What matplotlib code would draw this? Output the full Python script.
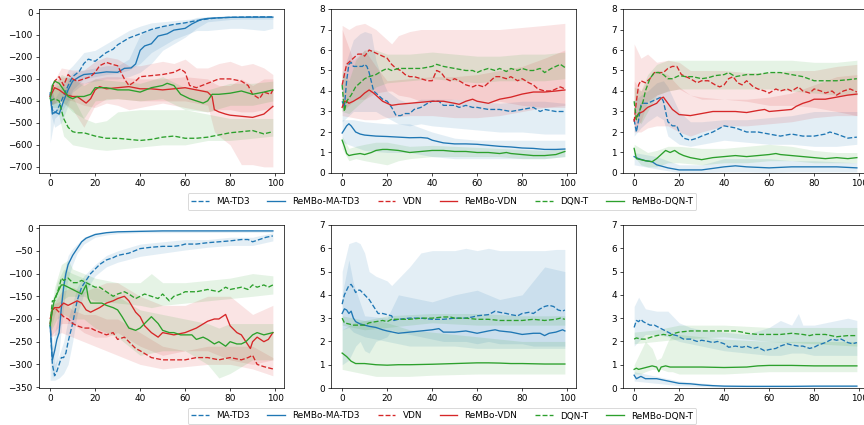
import matplotlib
matplotlib.use("Agg")
import matplotlib.pyplot as plt

# ---------------- colours / labels ----------------
C_TD3, C_VDN, C_DQN = "#1f77b4", "#d62728", "#2ca02c"
labels = ["MA-TD3", "ReMBo-MA-TD3", "VDN", "ReMBo-VDN", "DQN-T", "ReMBo-DQN-T"]

# ================= Panel A (top-left) =================
a_matd3_x = [0,1,2,3,5,8,10,13,15,17,20,23,25,28,30,35,40,45,50,55,60,65,70,75,80,85,90,95,99]
a_matd3_y = [-360,-440,-455,-445,-400,-330,-290,-265,-230,-210,-220,-195,-180,-165,-145,-114,-95,-75,-62,-52,-45,-35,-27,-22,-20,-19,-18,-18,-18]
a_matd3_bx = [0,2,5,8,10,15,20,25,30,35,40,45,50,55,60,65,70,75,80,85,90,95,99]
a_matd3_lo = [-590,-480,-450,-400,-350,-300,-290,-280,-275,-260,-230,-180,-150,-120,-100,-80,-80,-75,-70,-70,-75,-80,-70]
a_matd3_hi = [-340,-390,-340,-260,-240,-180,-170,-140,-110,-80,-60,-45,-40,-35,-30,-25,-18,-15,-14,-14,-14,-14,-14]

a_rtd3_x = [0,1,2,4,6,8,10,13,15,20,25,30,33,36,38,40,42,45,48,52,55,60,63,67,70,75,80,90,99]
a_rtd3_y = [-370,-460,-450,-460,-400,-350,-310,-290,-280,-275,-268,-270,-252,-250,-232,-170,-150,-140,-105,-95,-78,-70,-50,-30,-25,-22,-20,-19,-19]
a_rtd3_bx = [0,2,5,8,10,15,20,25,30,35,40,45,50,55,60,65,70,75,80,85,90,95,99]
a_rtd3_lo = [-450,-520,-500,-420,-360,-320,-310,-300,-300,-290,-270,-230,-170,-140,-110,-70,-40,-35,-30,-28,-28,-28,-28]
a_rtd3_hi = [-300,-400,-420,-300,-270,-260,-250,-240,-240,-210,-100,-70,-60,-50,-40,-20,-18,-16,-14,-14,-14,-14,-14]

a_vdn_x = [0,2,4,6,8,10,12,15,18,20,22,25,28,30,33,35,38,40,45,50,55,58,60,62,65,70,75,80,85,88,90,93,95,98,99]
a_vdn_y = [-380,-310,-290,-330,-280,-300,-310,-300,-290,-270,-240,-225,-235,-240,-300,-330,-310,-290,-285,-280,-270,-255,-270,-330,-340,-320,-300,-300,-310,-330,-370,-390,-360,-370,-350]
a_vdn_bx = [0,5,10,15,20,25,30,35,40,45,50,55,60,65,70,75,80,85,90,95,99]
a_vdn_lo = [-420,-390,-400,-420,-430,-410,-420,-440,-430,-420,-410,-420,-430,-440,-450,-440,-440,-450,-450,-440,-430]
a_vdn_hi = [-340,-250,-260,-260,-220,-200,-210,-240,-240,-230,-220,-230,-210,-250,-250,-230,-220,-240,-230,-250,-280]

a_rvdn_x = [0,2,4,6,8,10,12,14,16,18,20,22,25,30,35,40,45,50,55,60,65,70,72,73,75,78,80,85,90,95,99]
a_rvdn_y = [-380,-340,-350,-365,-375,-380,-380,-395,-410,-390,-350,-335,-345,-340,-335,-345,-345,-350,-345,-340,-350,-360,-380,-440,-450,-460,-465,-470,-475,-460,-425]
a_rvdn_bx = [0,5,10,15,20,25,30,40,50,60,70,73,75,80,85,90,95,99]
a_rvdn_lo = [-420,-400,-440,-520,-420,-390,-390,-400,-400,-400,-420,-540,-560,-600,-690,-690,-700,-700]
a_rvdn_hi = [-330,-290,-300,-320,-300,-290,-290,-300,-300,-290,-300,-320,-330,-330,-300,-330,-300,-300]

a_dqn_x = [0,2,4,6,8,10,12,15,20,25,30,35,40,45,50,55,60,65,70,75,80,85,90,95,99]
a_dqn_y = [-400,-390,-400,-480,-520,-540,-545,-545,-560,-570,-570,-575,-580,-575,-565,-560,-570,-570,-565,-555,-545,-540,-535,-550,-540]
a_dqn_bx = [0,3,6,10,15,20,25,30,40,50,60,65,70,80,90,99]
a_dqn_lo = [-430,-430,-560,-600,-610,-620,-625,-620,-610,-600,-600,-590,-580,-580,-570,-560]
a_dqn_hi = [-360,-330,-330,-380,-480,-500,-490,-450,-440,-440,-440,-450,-460,-480,-480,-480]

a_rdqn_x = [0,1,2,4,6,8,10,12,15,18,20,25,30,35,40,45,50,52,55,58,62,65,68,70,72,75,80,85,90,95,99]
a_rdqn_y = [-390,-330,-310,-320,-350,-380,-390,-380,-380,-370,-340,-340,-350,-350,-360,-340,-330,-320,-330,-370,-390,-400,-410,-400,-370,-370,-365,-355,-370,-360,-350]
a_rdqn_bx = [0,5,10,15,20,30,40,50,60,70,80,90,99]
a_rdqn_lo = [-420,-400,-450,-480,-400,-390,-400,-390,-440,-450,-420,-420,-400]
a_rdqn_hi = [-360,-280,-300,-330,-300,-310,-320,-290,-340,-350,-320,-320,-310]

# ================= Panel B (top-middle) =================
b_matd3_x = [0,1,2,3,4,5,7,9,10,11,12,14,16,18,20,22,24,26,28,30,32,35,38,40,43,45,48,50,52,55,58,60,65,70,75,80,85,88,90,95,99]
b_matd3_y = [3.5,3.2,4.5,5.3,5.4,5.2,5.2,5.2,5.3,5.2,4.9,4.0,3.8,3.6,3.5,3.2,2.8,2.8,2.9,2.9,3.1,3.2,3.4,3.5,3.5,3.3,3.3,3.3,3.2,3.3,3.2,3.2,3.1,3.1,3.0,3.1,3.2,3.0,3.1,3.0,3.0]
b_matd3_bx = [0,2,5,8,10,13,15,18,20,25,30,35,40,50,60,70,80,90,99]
b_matd3_lo = [2.5,2.7,3.0,3.0,3.0,3.0,3.0,2.8,2.7,2.4,2.3,2.4,2.3,2.2,2.1,2.0,2.0,1.9,1.9]
b_matd3_hi = [4.8,5.5,6.5,6.8,6.9,6.8,5.5,4.5,4.0,3.6,3.4,3.6,3.6,3.6,3.5,3.4,3.5,3.5,3.4]

b_rtd3_x = [0,2,3,4,6,8,10,15,20,25,30,35,38,40,45,50,55,60,65,70,75,80,85,90,95,99]
b_rtd3_y = [1.95,2.3,2.4,2.3,2.0,1.9,1.85,1.8,1.78,1.75,1.72,1.73,1.7,1.6,1.47,1.42,1.42,1.4,1.35,1.3,1.27,1.22,1.2,1.15,1.15,1.17]
b_rtd3_bx = [0,5,10,20,30,40,50,60,70,80,90,99]
b_rtd3_lo = [1.5,1.3,1.1,1.0,1.0,0.8,0.7,0.7,0.7,0.7,0.7,0.8]
b_rtd3_hi = [2.6,2.6,2.5,2.4,2.4,2.0,1.7,1.6,1.6,1.6,1.6,1.6]

b_vdn_x = [0,1,2,3,5,7,9,10,12,14,16,18,20,22,24,26,28,30,32,35,38,40,42,44,46,48,50,52,55,58,60,63,65,68,70,73,75,78,80,83,85,87,90,93,95,97,99]
b_vdn_y = [4.3,4.8,5.3,5.4,5.6,5.8,5.8,5.7,6.0,5.9,5.8,5.7,5.6,5.3,5.1,5.0,4.8,4.7,4.7,4.6,4.5,4.5,5.0,4.9,4.6,4.5,4.6,4.5,4.3,4.2,4.3,4.2,4.4,4.7,4.7,4.6,4.7,4.5,4.6,4.4,4.3,4.1,4.0,4.0,4.1,4.2,4.1]
b_vdn_bx = [0,3,6,10,15,20,22,25,30,35,40,50,60,70,80,90,99]
b_vdn_lo = [3.0,3.3,3.6,3.6,3.9,4.0,4.0,3.8,3.7,3.5,3.5,3.6,3.5,3.5,3.3,3.2,3.2]
b_vdn_hi = [7.2,7.0,7.2,7.3,7.0,6.5,6.3,6.7,6.9,7.0,7.0,7.0,7.0,7.0,7.1,7.2,7.3]

b_rvdn_x = [0,1,2,3,5,8,10,12,14,16,18,20,22,25,30,35,40,45,50,52,55,58,60,65,70,75,80,85,90,95,99]
b_rvdn_y = [3.2,3.5,3.5,3.4,3.5,3.7,3.9,4.05,3.9,3.7,3.5,3.4,3.3,3.35,3.4,3.45,3.5,3.5,3.4,3.35,3.5,3.6,3.5,3.4,3.6,3.7,3.85,3.95,3.95,4.0,4.05]
b_rvdn_bx = [0,5,10,15,20,30,40,50,60,70,80,90,99]
b_rvdn_lo = [2.8,2.7,2.6,2.6,2.7,2.8,2.8,2.7,2.7,2.8,3.0,3.2,3.3]
b_rvdn_hi = [7.0,5.5,6.0,5.2,4.5,4.6,4.7,4.7,4.8,5.0,5.2,5.6,6.0]

b_dqn_x = [0,1,2,4,6,8,10,12,15,18,20,22,25,30,35,40,42,45,50,55,58,60,62,65,68,70,73,75,78,80,83,85,88,90,93,95,97,99]
b_dqn_y = [4.3,3.0,3.5,3.8,4.2,4.4,4.6,4.7,4.8,5.0,5.1,5.0,5.1,5.1,5.1,5.2,5.3,5.2,5.1,5.0,5.0,4.9,5.0,5.1,5.0,5.1,4.95,5.1,5.0,5.1,5.0,5.0,5.1,4.9,5.1,5.2,5.3,5.15]
b_dqn_bx = [0,3,6,10,15,20,30,40,50,60,70,80,90,99]
b_dqn_lo = [3.0,2.9,3.2,3.6,4.2,4.4,4.5,4.6,4.5,4.4,4.5,4.5,4.5,4.6]
b_dqn_hi = [5.0,4.5,5.5,6.0,6.0,5.8,5.8,5.9,5.8,5.7,5.7,5.8,5.8,5.9]

b_rdqn_x = [0,1,2,3,5,8,10,13,15,18,20,25,30,35,40,45,50,55,60,65,70,73,75,80,85,90,95,99]
b_rdqn_y = [1.6,1.3,0.95,0.85,0.9,0.95,0.9,1.0,1.1,1.15,1.15,1.1,1.0,1.05,1.1,1.1,1.05,1.05,1.0,1.0,0.95,1.0,0.95,0.9,0.85,0.85,0.9,1.05]
b_rdqn_bx = [0,3,6,10,15,20,25,30,40,50,60,70,80,90,99]
b_rdqn_lo = [1.2,0.6,0.7,0.6,0.5,0.4,0.6,0.7,0.8,0.8,0.8,0.8,0.7,0.7,0.8]
b_rdqn_hi = [1.8,1.2,1.3,1.4,1.5,1.5,1.4,1.3,1.35,1.3,1.25,1.2,1.15,1.1,1.2]

# ================= Panel C (top-right) =================
c_matd3_x = [0,1,2,3,4,6,8,10,12,13,14,15,17,19,20,22,25,28,30,35,40,45,50,55,60,65,70,75,80,85,87,90,95,99]
c_matd3_y = [2.6,2.0,2.6,3.3,3.4,3.4,3.5,3.6,3.7,3.5,3.0,2.5,2.3,2.3,2.0,1.7,1.6,1.7,1.8,2.0,2.3,2.2,2.0,2.0,1.9,1.8,1.9,1.8,1.8,1.9,2.0,1.9,1.7,1.75]
c_matd3_bx = [0,3,6,10,13,15,20,25,30,40,50,60,70,80,90,99]
c_matd3_lo = [1.8,2.2,2.5,2.8,2.6,1.8,1.4,1.3,1.4,1.6,1.5,1.4,1.4,1.3,1.3,1.4]
c_matd3_hi = [3.5,3.8,4.0,4.4,4.5,4.2,3.0,2.5,2.5,2.6,2.6,2.7,2.8,3.0,3.0,3.0]

c_rtd3_x = [0,2,5,8,10,15,20,30,40,45,50,60,70,80,90,99]
c_rtd3_y = [0.8,0.7,0.6,0.55,0.4,0.25,0.15,0.15,0.3,0.35,0.3,0.25,0.3,0.3,0.3,0.25]
c_rtd3_bx = [0,5,10,20,30,40,50,60,70,80,90,99]
c_rtd3_lo = [0.4,0.3,0.2,0.02,0.02,0.05,0.05,0.02,0.05,0.05,0.05,0.05]
c_rtd3_hi = [1.0,0.9,0.8,0.4,0.4,0.7,0.7,0.7,0.6,0.6,0.55,0.5]

c_vdn_x = [0,1,2,3,5,7,9,11,13,15,17,19,21,23,25,28,30,33,36,38,40,42,44,46,48,50,53,55,58,60,63,65,68,70,73,75,78,80,83,85,88,90,93,96,99]
c_vdn_y = [2.5,3.5,4.3,4.5,4.4,4.6,4.9,4.9,4.9,5.1,5.2,5.2,4.8,4.7,4.6,4.4,4.5,4.5,4.3,4.2,4.3,4.6,4.7,4.4,4.3,4.5,4.2,4.1,4.0,3.9,4.1,4.0,4.1,4.0,4.2,4.0,3.9,4.1,4.0,3.9,4.0,3.8,4.0,4.1,3.95]
c_vdn_bx = [0,3,6,10,15,20,25,30,40,50,60,70,80,90,99]
c_vdn_lo = [2.2,2.5,3.5,3.8,4.0,4.1,3.8,3.6,3.6,3.5,3.3,3.3,3.2,3.0,2.8]
c_vdn_hi = [6.3,5.6,5.8,5.4,5.5,5.4,5.0,5.0,5.0,4.9,4.9,5.0,5.0,5.2,5.3]

c_rvdn_x = [0,2,4,6,8,10,12,13,15,17,20,25,30,35,40,45,50,55,58,60,65,70,72,75,78,80,85,90,95,99]
c_rvdn_y = [2.6,2.9,3.0,3.2,3.3,3.4,3.65,3.7,3.4,3.1,2.85,2.8,2.9,3.0,3.0,3.0,2.95,3.05,3.1,3.0,3.05,3.1,3.25,3.4,3.5,3.6,3.6,3.7,3.8,3.85]
c_rvdn_bx = [0,3,6,10,15,20,25,30,40,50,60,70,80,90,99]
c_rvdn_lo = [2.0,2.0,2.2,2.3,2.3,2.0,1.8,2.0,2.3,2.3,2.4,2.5,2.7,2.8,2.8]
c_rvdn_hi = [4.5,4.0,4.5,5.0,4.8,4.2,3.8,3.7,3.6,3.6,3.7,3.9,4.3,4.7,4.8]

c_dqn_x = [0,1,2,4,5,7,9,11,13,15,17,20,23,26,30,33,36,40,42,45,50,55,60,65,70,75,80,85,90,95,99]
c_dqn_y = [3.5,2.6,2.9,3.5,4.0,4.6,4.9,4.9,4.8,4.6,4.6,4.75,4.7,4.7,4.6,4.65,4.75,4.8,4.9,4.7,4.8,4.8,4.9,4.9,4.8,4.7,4.5,4.5,4.5,4.55,4.6]
c_dqn_bx = [0,3,6,10,15,20,30,40,50,60,70,80,90,99]
c_dqn_lo = [2.8,2.4,3.0,3.8,4.0,4.1,4.1,4.1,4.1,4.1,4.0,3.9,3.8,3.8]
c_dqn_hi = [4.2,4.0,4.8,5.3,5.5,5.5,5.5,5.5,5.5,5.5,5.5,5.4,5.4,5.5]

c_rdqn_x = [0,1,3,5,8,10,12,14,16,18,20,22,25,30,35,40,45,50,55,60,63,65,70,75,80,85,90,95,99]
c_rdqn_y = [1.2,0.7,0.65,0.6,0.55,0.7,0.9,1.1,1.0,1.1,0.95,0.85,0.75,0.65,0.75,0.8,0.85,0.8,0.85,0.9,0.95,0.9,0.85,0.8,0.75,0.7,0.75,0.7,0.75]
c_rdqn_bx = [0,3,6,10,15,20,30,40,50,60,70,80,90,99]
c_rdqn_lo = [0.8,0.4,0.3,0.3,0.5,0.5,0.4,0.5,0.5,0.6,0.6,0.5,0.5,0.5]
c_rdqn_hi = [1.4,1.2,1.0,1.1,1.3,1.3,1.2,1.2,1.3,1.4,1.3,1.1,1.0,1.0]

# ================= Panel D (bottom-left) =================
d_matd3_x = [0,1,2,3,4,5,6,7,8,10,12,14,16,18,20,22,25,28,30,35,40,45,50,55,58,60,65,70,75,80,85,88,90,93,96,99]
d_matd3_y = [-210,-300,-325,-315,-300,-285,-285,-275,-250,-210,-160,-130,-115,-100,-90,-80,-70,-65,-60,-55,-45,-42,-40,-40,-38,-35,-35,-32,-30,-28,-25,-25,-30,-25,-20,-17]
d_matd3_bx = [0,2,4,6,8,10,12,15,20,25,30,40,50,60,70,80,90,99]
d_matd3_lo = [-335,-335,-330,-320,-300,-250,-190,-145,-105,-85,-75,-62,-55,-48,-42,-38,-38,-28]
d_matd3_hi = [-200,-300,-280,-250,-200,-165,-130,-105,-80,-60,-50,-35,-30,-25,-25,-20,-20,-10]

d_rtd3_x = [0,1,2,3,4,5,6,7,8,10,12,14,16,18,20,25,30,40,50,99]
d_rtd3_y = [-215,-290,-270,-245,-230,-175,-130,-100,-80,-60,-45,-30,-22,-18,-14,-10,-8,-7,-6,-6]
d_rtd3_bx = [0,1,2,4,6,8,10,12,15,20,25,30,40,99]
d_rtd3_lo = [-240,-330,-320,-270,-170,-110,-80,-55,-35,-20,-15,-12,-10,-9]
d_rtd3_hi = [-190,-260,-230,-180,-100,-60,-45,-35,-20,-10,-7,-5,-4,-4]

d_vdn_x = [0,1,2,4,6,8,10,12,15,18,20,25,28,30,33,35,38,40,45,50,55,60,65,70,75,80,85,88,90,92,95,99]
d_vdn_y = [-200,-180,-175,-185,-195,-200,-210,-215,-220,-220,-225,-235,-230,-245,-240,-250,-265,-270,-285,-290,-290,-290,-285,-285,-290,-285,-290,-285,-280,-300,-305,-310]
d_vdn_bx = [0,5,10,15,20,25,30,40,50,60,70,80,90,99]
d_vdn_lo = [-240,-230,-240,-250,-260,-270,-280,-300,-310,-305,-300,-300,-310,-325]
d_vdn_hi = [-170,-160,-180,-190,-190,-200,-200,-230,-260,-270,-260,-260,-260,-285]

d_rvdn_x = [0,1,2,4,6,8,10,12,14,16,18,20,22,25,28,30,33,35,38,40,42,45,48,50,55,60,65,70,73,75,78,80,83,85,87,89,90,92,95,97,99]
d_rvdn_y = [-210,-180,-175,-175,-165,-170,-165,-160,-165,-180,-185,-180,-175,-165,-160,-155,-150,-160,-185,-195,-215,-230,-240,-230,-235,-230,-220,-205,-200,-200,-190,-215,-230,-235,-250,-265,-250,-240,-250,-245,-230]
d_rvdn_bx = [0,5,10,15,20,25,30,40,50,60,70,80,90,99]
d_rvdn_lo = [-240,-210,-210,-230,-240,-240,-230,-260,-280,-270,-270,-290,-300,-290]
d_rvdn_hi = [-180,-140,-130,-140,-130,-120,-120,-150,-170,-170,-150,-150,-190,-170]

d_dqn_x = [0,1,2,4,5,6,8,10,12,14,16,18,20,22,25,28,30,33,35,38,40,42,45,48,50,53,55,58,60,65,70,75,78,80,85,88,90,92,95,97,99]
d_dqn_y = [-210,-160,-160,-130,-110,-115,-110,-120,-120,-115,-120,-125,-130,-130,-140,-150,-145,-140,-145,-155,-150,-145,-150,-155,-145,-160,-150,-145,-140,-140,-135,-140,-130,-135,-130,-135,-125,-130,-125,-130,-125]
d_dqn_bx = [0,2,5,8,10,15,20,30,40,45,50,60,70,80,90,99]
d_dqn_lo = [-230,-190,-160,-150,-150,-150,-160,-165,-170,-175,-170,-165,-160,-155,-150,-145]
d_dqn_hi = [-190,-130,-80,-70,-90,-100,-110,-120,-120,-100,-120,-120,-115,-110,-100,-105]

d_rdqn_x = [0,1,2,4,5,6,8,10,12,14,16,17,18,20,23,25,28,30,32,35,38,40,42,45,48,50,53,55,58,60,63,65,68,70,73,75,78,80,83,85,87,90,92,95,99]
d_rdqn_y = [-215,-180,-155,-135,-125,-125,-130,-135,-140,-145,-125,-155,-165,-165,-165,-170,-175,-180,-195,-220,-225,-220,-210,-195,-210,-225,-230,-230,-235,-235,-235,-245,-240,-245,-255,-250,-260,-250,-255,-255,-250,-235,-230,-235,-230]
d_rdqn_bx = [0,3,6,10,15,20,30,40,50,60,70,75,80,90,99]
d_rdqn_lo = [-230,-200,-190,-200,-200,-220,-240,-280,-270,-270,-300,-330,-320,-290,-290]
d_rdqn_hi = [-200,-120,-90,-100,-110,-130,-150,-180,-190,-200,-210,-220,-210,-210,-210]

# ================= Panel E (bottom-middle) =================
e_matd3_x = [0,1,2,3,4,5,6,7,8,10,12,14,16,18,20,22,23,25,30,35,40,45,50,55,58,60,65,68,70,73,75,78,80,83,85,88,90,92,94,96,98,99]
e_matd3_y = [3.6,4.0,4.2,4.4,4.45,4.3,4.1,4.2,4.2,4.0,3.8,3.5,3.2,3.2,3.15,3.1,2.9,2.95,3.0,3.0,2.95,2.95,3.0,3.0,3.05,3.1,3.15,3.3,3.25,3.2,3.15,3.1,3.2,3.25,3.2,3.4,3.5,3.55,3.5,3.35,3.3,3.35]
e_matd3_bx = [0,3,6,8,10,12,15,20,22,25,30,35,40,45,50,55,60,65,70,75,80,85,90,95,99]
e_matd3_lo = [1.0,1.2,1.8,2.0,1.6,1.5,2.0,2.2,2.5,2.4,2.3,2.2,2.1,2.0,2.0,2.0,1.9,2.0,1.9,1.9,1.9,1.8,1.8,1.8,1.8]
e_matd3_hi = [5.0,6.2,6.3,6.2,5.8,5.0,4.8,4.6,4.4,4.7,5.2,5.8,5.9,5.9,5.9,6.0,5.9,6.0,5.9,5.9,5.9,5.9,5.9,5.95,5.95]

e_rtd3_x = [0,1,2,3,4,5,6,8,10,12,15,18,20,25,30,35,40,43,45,50,55,60,65,68,70,75,80,85,88,90,92,95,98,99]
e_rtd3_y = [3.2,3.4,3.35,3.2,3.3,3.0,2.85,2.75,2.7,2.65,2.6,2.5,2.45,2.35,2.4,2.45,2.5,2.55,2.4,2.4,2.45,2.35,2.45,2.5,2.45,2.4,2.3,2.35,2.35,2.25,2.35,2.4,2.5,2.45]
e_rtd3_bx = [0,3,5,10,20,25,30,40,50,60,70,80,90,99]
e_rtd3_lo = [2.5,2.6,2.4,2.2,2.0,1.9,1.8,1.8,1.8,1.7,1.7,1.7,1.7,1.7]
e_rtd3_hi = [4.0,5.5,4.5,3.1,3.0,4.0,3.9,3.7,4.0,4.2,3.8,4.0,5.2,5.0]

e_dqn_x = [0,1,3,5,8,10,12,15,18,20,22,25,30,35,40,45,48,50,55,60,65,70,75,80,85,90,95,97,99]
e_dqn_y = [3.0,2.8,2.75,2.7,2.7,2.7,2.8,2.85,2.9,2.85,2.95,2.95,2.95,3.0,3.0,3.05,3.05,3.0,3.0,2.95,2.95,2.9,2.9,2.9,2.95,2.9,2.95,3.0,2.95]
e_dqn_bx = [0,10,20,40,60,80,99]
e_dqn_lo = [2.7,2.5,2.6,2.8,2.7,2.7,2.7]
e_dqn_hi = [3.1,2.9,3.1,3.2,3.2,3.1,3.1]

e_rdqn_x = [0,2,4,6,10,15,20,25,30,40,50,60,65,70,75,80,90,99]
e_rdqn_y = [1.5,1.35,1.15,1.05,1.05,1.0,0.98,1.0,1.0,1.02,1.05,1.08,1.08,1.07,1.05,1.05,1.03,1.03]
e_rdqn_bx = [0,5,10,15,20,30,40,60,80,99]
e_rdqn_lo = [0.8,0.7,0.6,0.5,0.5,0.5,0.55,0.6,0.6,0.6]
e_rdqn_hi = [2.5,2.8,2.9,2.9,2.8,2.5,2.4,2.2,2.0,2.0]

# ================= Panel F (bottom-right) =================
f_matd3_x = [0,1,2,3,4,5,7,9,11,13,15,17,19,20,22,25,28,30,33,35,37,40,42,45,48,50,53,55,58,60,63,65,68,70,73,75,78,80,82,85,88,90,92,95,97,99]
f_matd3_y = [2.6,2.9,2.85,2.95,2.85,2.8,2.7,2.7,2.6,2.5,2.4,2.3,2.25,2.2,2.1,2.1,2.0,2.05,2.0,1.95,2.0,1.9,1.75,1.8,1.75,1.8,1.7,1.75,1.6,1.65,1.7,1.8,1.9,1.85,1.8,1.8,1.7,1.75,1.85,1.95,2.1,2.05,2.1,1.95,1.9,1.95]
f_matd3_bx = [0,2,5,10,15,20,25,30,40,50,60,65,70,73,75,80,85,90,95,99]
f_matd3_lo = [1.8,2.0,2.3,2.3,2.2,2.0,1.9,1.8,1.6,1.5,1.4,1.4,1.5,1.5,1.5,1.4,1.4,1.4,1.4,1.4]
f_matd3_hi = [3.5,3.9,3.4,3.3,3.3,2.8,2.6,2.5,2.4,2.3,2.6,2.9,2.7,3.2,2.7,2.7,2.8,2.9,3.0,2.9]

f_rtd3_x = [0,1,2,3,5,10,15,20,25,30,35,40,50,60,70,80,99]
f_rtd3_y = [0.55,0.4,0.45,0.5,0.4,0.4,0.3,0.2,0.18,0.13,0.1,0.08,0.07,0.07,0.07,0.08,0.08]
f_rtd3_bx = [0,10,20,40,99]
f_rtd3_lo = [0.3,0.2,0.1,0.03,0.05]
f_rtd3_hi = [0.7,0.5,0.3,0.12,0.12]

f_dqn_x = [0,1,3,5,8,10,13,16,18,20,25,30,35,40,45,48,50,55,60,65,70,75,78,80,85,90,95,99]
f_dqn_y = [2.1,2.15,2.1,2.1,2.2,2.25,2.3,2.25,2.35,2.4,2.45,2.45,2.45,2.45,2.45,2.4,2.35,2.3,2.3,2.3,2.35,2.3,2.25,2.3,2.3,2.2,2.25,2.25]
f_dqn_bx = [0,10,20,40,60,80,99]
f_dqn_lo = [1.9,2.0,2.1,2.2,2.0,1.9,1.8]
f_dqn_hi = [2.4,2.5,2.7,2.7,2.6,2.6,2.6]

f_rdqn_x = [0,1,2,4,6,8,10,11,12,14,16,20,25,30,40,50,55,60,65,70,80,90,99]
f_rdqn_y = [0.8,0.85,0.8,0.85,0.9,0.95,0.9,0.7,0.9,0.95,0.9,0.9,0.9,0.9,0.88,0.9,0.95,0.97,0.97,0.97,0.95,0.95,0.95]
f_rdqn_bx = [0,3,5,8,10,12,15,17,20,30,40,60,80,99]
f_rdqn_lo = [0.6,0.6,0.7,0.8,0.8,0.8,0.7,0.7,0.6,0.6,0.6,0.7,0.7,0.7]
f_rdqn_hi = [1.0,1.6,2.0,1.7,1.2,1.3,2.0,2.3,2.3,2.2,2.1,2.0,2.0,2.0]

# ---------------- figure ----------------
DPI = 64
fig = plt.figure(figsize=(864 / DPI, 425 / DPI), dpi=DPI)

col_left = [39 / 864, 331 / 864, 623 / 864]
ax_w = 245 / 864
row1_b, row1_h = 1 - 173 / 425, 164 / 425
row2_b, row2_h = 1 - 388 / 425, 163 / 425

axes = []
for (b, h) in [(row1_b, row1_h), (row2_b, row2_h)]:
    for l in col_left:
        axes.append(fig.add_axes([l, b, ax_w, h]))
axA, axB, axC, axD, axE, axF = axes


def series(ax, x, y, bx, lo, hi, color, ls, label):
    ax.fill_between(bx, lo, hi, color=color, alpha=0.12, linewidth=0)
    ax.plot(x, y, color=color, linestyle=ls, label=label)


def panel(ax, p, with_vdn=True):
    g = globals()
    spec = [("matd3", C_TD3, "--", labels[0]), ("rtd3", C_TD3, "-", labels[1])]
    if with_vdn:
        spec += [("vdn", C_VDN, "--", labels[2]), ("rvdn", C_VDN, "-", labels[3])]
    spec += [("dqn", C_DQN, "--", labels[4]), ("rdqn", C_DQN, "-", labels[5])]
    for key, c, ls, lab in spec:
        pre = f"{p}_{key}_"
        series(ax, g[pre + "x"], g[pre + "y"], g[pre + "bx"], g[pre + "lo"], g[pre + "hi"], c, ls, lab)


panel(axA, "a")
panel(axB, "b")
panel(axC, "c")
panel(axD, "d")
panel(axE, "e", with_vdn=False)
panel(axF, "f", with_vdn=False)

axA.set_ylim(-728, 18)
axB.set_ylim(0, 8)
axC.set_ylim(0, 8)
axD.set_ylim(-352, 7)
axE.set_ylim(0, 7)
axF.set_ylim(0, 7)

for ax in axes:
    ax.set_xticks([0, 20, 40, 60, 80, 100])

hA, lA = axA.get_legend_handles_labels()
fig.legend(hA, lA, loc="center", ncol=6, bbox_to_anchor=(442 / 864, 1 - 201.5 / 425))
hD, lD = axD.get_legend_handles_labels()
fig.legend(hD, lD, loc="center", ncol=6, bbox_to_anchor=(442 / 864, 1 - 416 / 425))

fig.savefig("out.png", dpi=DPI)
